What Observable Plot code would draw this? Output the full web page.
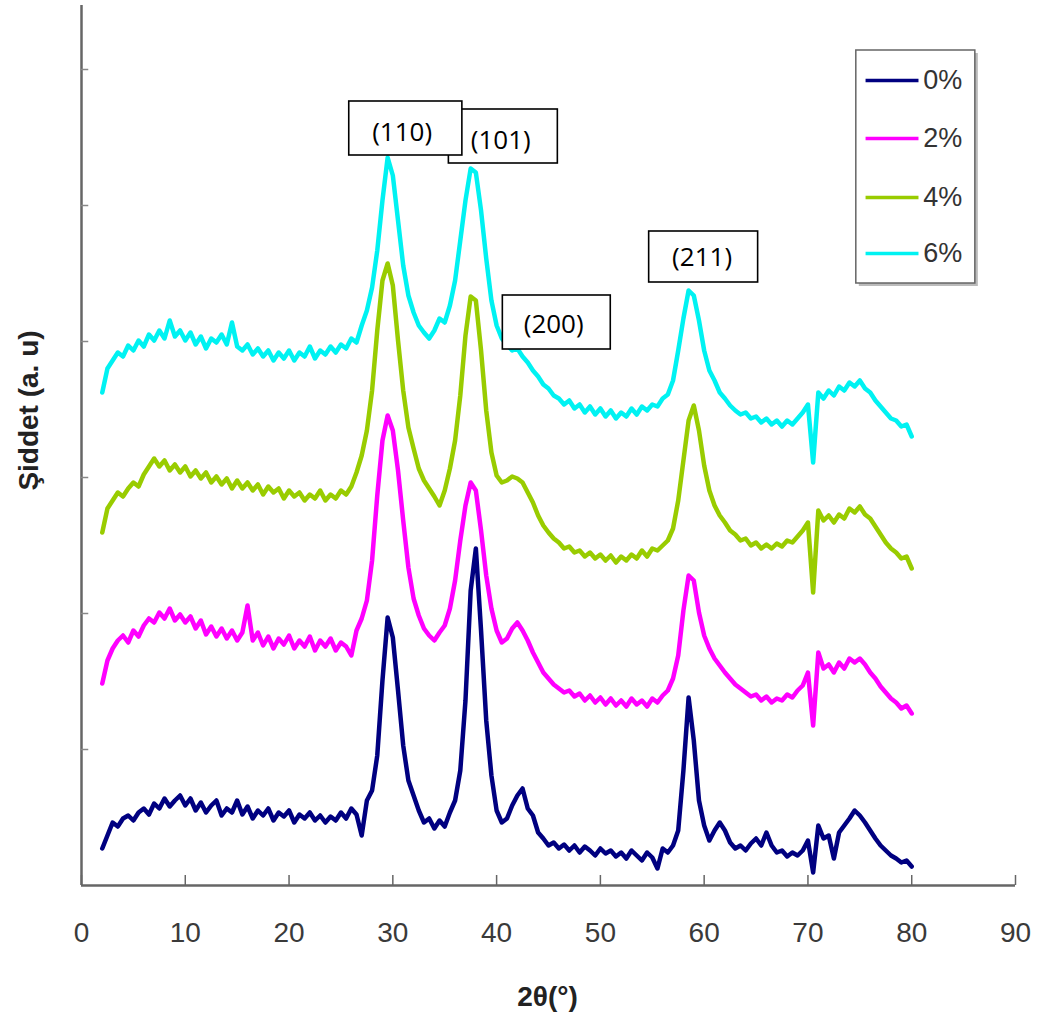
<!DOCTYPE html>
<html>
<head>
<meta charset="utf-8">
<script src="https://cdn.jsdelivr.net/npm/d3@7"></script>
<script src="https://cdn.jsdelivr.net/npm/@observablehq/plot@0.6"></script>
<style>
  html, body { margin: 0; padding: 0; background: #fff; }
  #chart { width: 1038px; height: 1024px; }
</style>
</head>
<body>
<div id="chart"></div>
<script>
// ---- data (2θ in degrees, intensity in a.u.) ----
const thetas = [
  2,2.5,3,3.5,4,4.5,5,5.5,6,6.5,
  7,7.5,8,8.5,9,9.5,10,10.5,11,11.5,
  12,12.5,13,13.5,14,14.5,15,15.5,16,16.5,
  17,17.5,18,18.5,19,19.5,20,20.5,21,21.5,
  22,22.5,23,23.5,24,24.5,25,25.5,26,26.5,
  27,27.5,28,28.5,29,29.5,30,30.5,31,31.5,
  32,32.5,33,33.5,34,34.5,35,35.5,36,36.5,
  37,37.5,38,38.5,39,39.5,40,40.5,41,41.5,
  42,42.5,43,43.5,44,44.5,45,45.5,46,46.5,
  47,47.5,48,48.5,49,49.5,50,50.5,51,51.5,
  52,52.5,53,53.5,54,54.5,55,55.5,56,56.5,
  57,57.5,58,58.5,59,59.5,60,60.5,61,61.5,
  62,62.5,63,63.5,64,64.5,65,65.5,66,66.5,
  67,67.5,68,68.5,69,69.5,70,70.5,71,71.5,
  72,72.5,73,73.5,74,74.5,75,75.5,76,76.5,
  77,77.5,78,78.5,79,79.5,80
];

const series0 = [ // 0%
  37,50,63,59,67,70,65,73,77,71,
  82,77,87,79,85,90,80,87,75,83,
  73,80,85,70,77,73,85,71,79,67,
  75,70,77,65,73,69,75,63,71,67,
  73,65,70,63,69,65,73,67,77,71,
  50,85,95,130,205,268,248,195,140,105,
  90,75,63,67,57,65,59,73,85,115,
  185,295,337,255,165,110,75,63,67,80,
  90,97,77,70,53,47,40,43,37,41,
  35,40,33,39,35,30,37,32,35,29,
  33,27,35,30,25,33,28,17,37,33,
  40,55,115,188,145,85,60,45,55,63,
  55,43,37,40,35,42,47,40,53,40,
  33,35,29,33,30,35,45,13,60,47,
  50,27,53,60,67,75,70,63,55,47,
  40,35,30,27,23,25,19
];
const series2 = [ // 2%
  202,225,237,245,250,243,255,249,260,267,
  263,273,267,277,265,271,263,269,257,265,
  251,259,249,257,247,255,245,253,280,245,
  253,240,249,237,247,241,250,237,245,239,
  249,235,245,239,247,235,243,239,230,255,
  267,285,325,390,445,470,455,415,365,318,
  287,270,257,250,245,253,260,277,305,345,
  380,403,395,355,310,277,255,243,247,257,
  263,255,245,233,223,213,207,201,197,193,
  195,189,192,185,190,183,188,181,187,180,
  185,179,187,181,185,179,187,183,190,195,
  207,230,275,310,305,273,250,237,227,220,
  213,207,201,197,193,189,191,185,189,183,
  187,185,191,188,195,200,213,160,233,217,
  221,213,223,217,227,223,227,221,213,207,
  199,193,187,183,177,180,172
];
const series4 = [ // 4%
  353,377,385,393,389,397,403,399,411,419,
  427,419,425,415,421,413,419,409,415,407,
  413,403,409,401,407,397,405,397,403,395,
  401,391,399,393,397,387,395,389,393,385,
  391,387,395,385,391,387,395,391,399,413,
  430,455,495,555,605,622,600,545,495,458,
  437,417,405,397,389,380,395,417,445,490,
  550,589,585,535,475,433,410,403,405,409,
  407,403,393,383,370,360,353,347,343,337,
  339,333,335,329,333,327,331,325,330,323,
  329,325,331,327,335,329,337,335,340,345,
  357,385,425,465,480,455,420,395,380,370,
  363,355,351,345,347,340,343,337,341,337,
  342,339,345,343,349,355,363,293,375,365,
  370,363,371,367,377,373,379,371,367,359,
  351,343,337,333,327,329,317
];
const series6 = [ // 6%
  493,517,525,533,529,540,535,545,539,551,
  545,555,547,565,549,555,545,553,541,549,
  537,547,543,551,541,563,539,535,541,531,
  537,529,535,525,533,527,535,525,533,529,
  539,527,535,531,539,533,541,537,547,543,
  560,575,598,635,685,728,710,665,620,590,
  573,560,553,547,555,567,563,580,605,645,
  685,717,713,675,627,585,560,547,541,535,
  537,529,523,515,509,501,497,490,487,481,
  485,477,481,473,479,471,477,469,475,467,
  473,469,477,471,479,475,481,479,487,491,
  505,535,567,595,590,565,535,515,505,493,
  487,480,475,471,473,467,469,463,467,461,
  465,459,465,461,467,473,481,423,493,487,
  495,490,499,495,503,499,505,497,493,485,
  479,473,467,465,459,461,449
];

const categories = ["0%", "2%", "4%", "6%"];
const seriesValues = [series0, series2, series4, series6];
const xTicks = [0, 10, 20, 30, 40, 50, 60, 70, 80, 90];
const yTicks = [136, 272, 408, 544, 680, 816];
const peakLabels = ["(101)", "(110)", "(200)", "(211)"];

// ---- styling / layout ----
const colors = ["#000080", "#ff00ff", "#99cc00", "#00f2f2"];
const annotations = [
  {label: peakLabels[0], x1: 35.4, x2: 45.9, y1: 722, y2: 776, tx: 40.4, ty: 745},
  {label: peakLabels[1], x1: 25.8, x2: 36.7, y1: 730, y2: 784, tx: 30.9, ty: 753},
  {label: peakLabels[2], x1: 40.6, x2: 51.0, y1: 536, y2: 590, tx: 45.5, ty: 561},
  {label: peakLabels[3], x1: 54.7, x2: 65.2, y1: 603, y2: 654, tx: 59.8, ty: 628}
];
const legendRows = categories.map((c, i) => ({series: c, y: [805, 747, 688, 632][i]}));

// ---- build table ----
const rows = [];
categories.forEach((c, i) => {
  seriesValues[i].forEach((v, j) => rows.push({theta: thetas[j], intensity: v, series: c}));
});

const axisGray = "#666";
const font = "'Liberation Sans', Arial, Helvetica, sans-serif";

const chart = Plot.plot({
  width: 1038,
  height: 1024,
  marginLeft: 81,
  marginRight: 23,
  marginTop: 5,
  marginBottom: 139,
  style: {fontFamily: font, background: "white", overflow: "visible"},
  x: {domain: [0, 90]},
  y: {domain: [0, 880], axis: null},
  color: {domain: categories, range: colors},
  marks: [
    // series
    Plot.line(rows, {x: "theta", y: "intensity", stroke: "series", z: "series",
      strokeWidth: 4.5, strokeLinejoin: "round", strokeLinecap: "round"}),
    // axes lines
    Plot.ruleY([0], {stroke: axisGray, strokeWidth: 2.5}),
    Plot.ruleX([0], {stroke: axisGray, strokeWidth: 2.5}),
    // inward ticks
    Plot.ruleX(xTicks, {y1: 0, y2: 10, stroke: axisGray, strokeWidth: 1.5}),
    Plot.ruleY(yTicks, {x1: 0, x2: 0.7, stroke: "#888", strokeWidth: 1.5}),
    Plot.axisX(xTicks, {tickSize: 0, tickPadding: 37, fontSize: 28, fill: "#3a3a3a",
      label: null, fontFamily: font}),
    // axis titles
    Plot.text(["2θ(°)"], {x: 44.9, y: 0, dy: 112, fontSize: 28, fontWeight: "bold",
      fill: "#222", lineAnchor: "middle", textAnchor: "middle"}),
    Plot.text(["Şiddet (a. u)"], {x: 0, y: 475, dx: -52, rotate: -90, fontSize: 28,
      fontWeight: "bold", fill: "#222", lineAnchor: "middle", textAnchor: "middle"}),
    // annotation boxes
    Plot.rect(annotations, {x1: "x1", x2: "x2", y1: "y1", y2: "y2", fill: "white",
      stroke: "black", strokeWidth: 1.6}),
    Plot.text(annotations, {x: "tx", y: "ty", text: "label", fontSize: 26,
      fontFamily: "'Open Sans', 'Noto Sans', sans-serif", fill: "black",
      lineAnchor: "middle", textAnchor: "middle"}),
    // legend
    Plot.rect([0], {x1: 74.66, x2: 86.13, y1: 602, y2: 835, fill: "#bbb", dx: 3, dy: 3}),
    Plot.rect([0], {x1: 74.66, x2: 86.13, y1: 602, y2: 835, fill: "white",
      stroke: "#666", strokeWidth: 1.5}),
    Plot.ruleY(legendRows, {y: "y", x1: 75.6, x2: 80.7, stroke: "series", strokeWidth: 3.5}),
    Plot.text(legendRows, {x: 81.1, y: "y", text: "series", fontSize: 27, fill: "#333",
      textAnchor: "start", lineAnchor: "middle"})
  ]
});

document.getElementById("chart").appendChild(chart);
</script>
</body>
</html>
